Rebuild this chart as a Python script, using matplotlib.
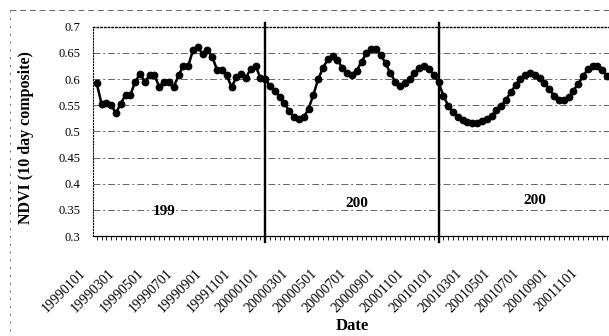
import numpy as np
import matplotlib
matplotlib.use('Agg')
from matplotlib import pyplot as plt
from matplotlib.lines import Line2D
import matplotlib.transforms as mtransforms

# 10 day NDVI composites
ndvi_1999 = [0.592, 0.553, 0.555, 0.55, 0.535, 0.553, 0.57, 0.57, 0.595, 0.61,
             0.595, 0.607, 0.607, 0.585, 0.595, 0.595, 0.585, 0.607, 0.625, 0.625,
             0.655, 0.662, 0.647, 0.655, 0.643, 0.617, 0.617, 0.607, 0.585, 0.603,
             0.61, 0.602, 0.62, 0.625, 0.602]
ndvi_2000 = [0.6, 0.586, 0.577, 0.566, 0.554, 0.538, 0.527, 0.524, 0.527, 0.543,
             0.57, 0.6, 0.621, 0.638, 0.644, 0.637, 0.621, 0.611, 0.608, 0.616,
             0.633, 0.649, 0.658, 0.658, 0.646, 0.63, 0.611, 0.595, 0.587, 0.592,
             0.601, 0.611, 0.621, 0.625, 0.619, 0.608]
ndvi_2001 = [0.594, 0.568, 0.549, 0.537, 0.527, 0.521, 0.517, 0.516, 0.516, 0.519,
             0.524, 0.53, 0.54, 0.549, 0.56, 0.575, 0.588, 0.6, 0.608, 0.611,
             0.608, 0.602, 0.592, 0.581, 0.568, 0.56, 0.559, 0.565, 0.578, 0.591,
             0.605, 0.619, 0.625, 0.625, 0.617, 0.606]

date_labels = ['19990101', '19990301', '19990501', '19990701', '19990901', '19991101',
               '20000101', '20000301', '20000501', '20000701', '20000901', '20001101',
               '20010101', '20010301', '20010501', '20010701', '20010901', '20011101']
year_texts = ['199', '200', '200']

ndvi = ndvi_1999 + ndvi_2000 + ndvi_2001
x = np.arange(len(ndvi))
breaks = [len(ndvi_1999), len(ndvi_1999) + len(ndvi_2000)]

plt.rcParams['font.family'] = ['Liberation Serif', 'DejaVu Serif']

fig = plt.figure(figsize=(6.09, 3.36), dpi=100)
ax = fig.add_axes([0.1527, 0.2976, 0.8473, 0.6229])

for yv in np.arange(0.35, 0.69, 0.05):
    ax.axhline(yv, color='0.4', lw=0.7, ls=(0, (7, 3, 2, 3)), zorder=1)

ax.plot(x, ndvi, '-o', color='black', lw=1.8, markersize=4.6, zorder=3)

for b in breaks:
    ax.axvline(b, ymin=-0.03, ymax=1.02, color='black', lw=1.7, clip_on=False, zorder=4)

ax.text(14, 0.346, year_texts[0], fontsize=11, fontweight='bold', ha='center', va='center')
ax.text(54, 0.363, year_texts[1], fontsize=11, fontweight='bold', ha='center', va='center')
ax.text(91, 0.367, year_texts[2], fontsize=11, fontweight='bold', ha='center', va='center')

ax.set_xlim(-0.77, 106.4)
ax.set_ylim(0.3, 0.7)
ax.set_yticks(np.arange(0.3, 0.71, 0.05))
ax.set_yticklabels(['0.3', '0.35', '0.4', '0.45', '0.5', '0.55', '0.6', '0.65', '0.7'])
ax.tick_params(axis='y', labelsize=9, length=0, pad=9)

ax.set_xticks(np.arange(0, 6 * len(date_labels), 6))
ax.set_xticklabels(date_labels, rotation=45, ha='right', fontsize=10)
ax.set_xticks(x, minor=True)
ax.tick_params(axis='x', which='both', length=3, width=0.6, pad=19)
offset = mtransforms.ScaledTranslation(-8 / 100, 0, fig.dpi_scale_trans)
for lab in ax.get_xticklabels():
    lab.set_transform(lab.get_transform() + offset)

ax.spines['right'].set_visible(False)
ax.spines['top'].set_linestyle(':')
ax.spines['top'].set_linewidth(1.0)
ax.spines['left'].set_linestyle(':')
ax.spines['left'].set_linewidth(0.8)
ax.spines['bottom'].set_linewidth(0.9)

ax.set_ylabel('NDVI (10 day composite)', fontsize=11.5, fontweight='bold')
ax.yaxis.set_label_coords(-0.115, 0.47)
fig.text(0.578, 0.03, 'Date', fontsize=12, fontweight='bold', ha='center', va='center')

# dashed frame of the scanned page
fig.add_artist(Line2D([0.017, 1.0], [0.97, 0.97], transform=fig.transFigure,
                      color='0.4', lw=0.7, ls=(0, (6, 4))))
fig.add_artist(Line2D([0.017, 0.017], [0.97, 0.0], transform=fig.transFigure,
                      color='0.4', lw=0.7, ls=(0, (2, 6))))

plt.savefig('out.png', dpi=100)
